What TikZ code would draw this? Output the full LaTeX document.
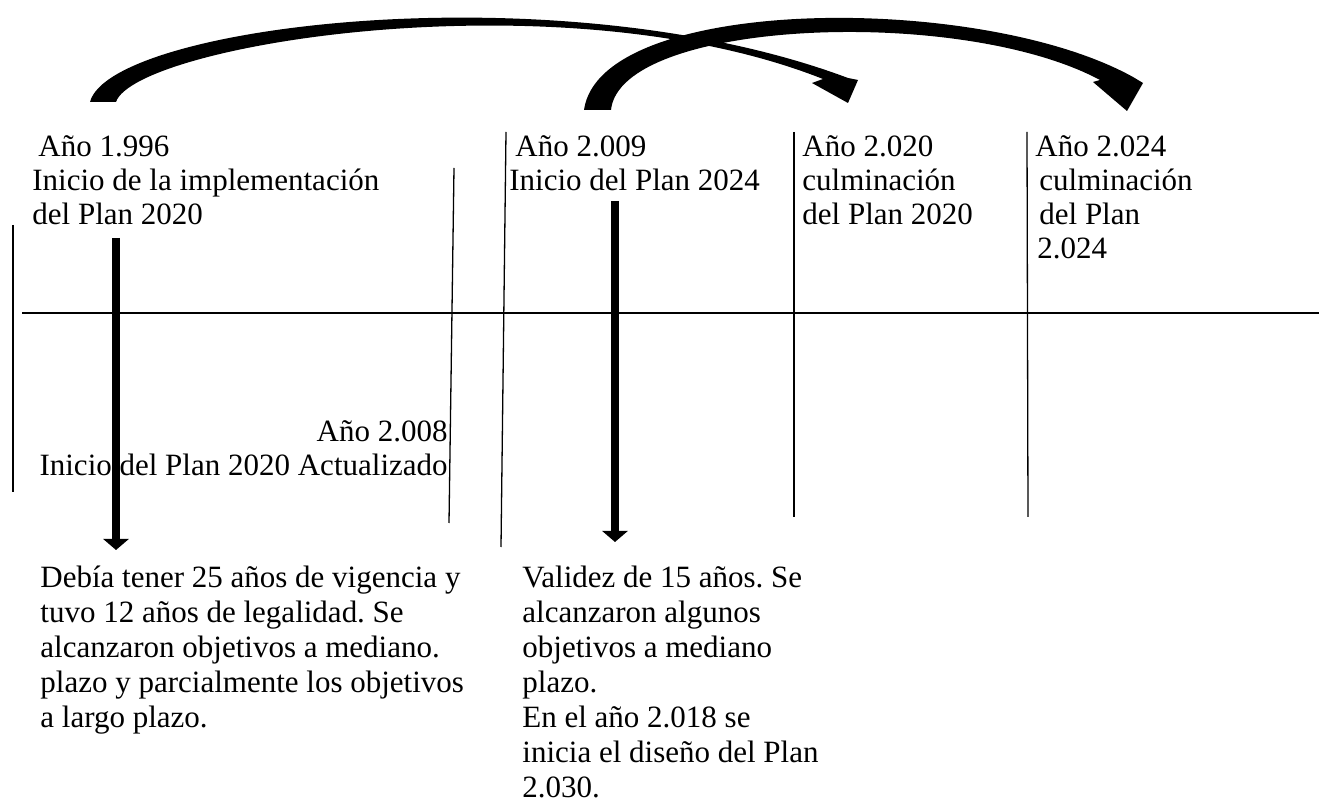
\documentclass[tikz,border=0pt]{standalone}
\usepackage{fontspec}
\setmainfont{Liberation Serif}
\usetikzlibrary{arrows.meta}
\newcommand{\txtblock}[2][l]{\begin{tabular}[t]{@{}#1@{}}#2\end{tabular}}
\frenchspacing
\begin{document}
\begin{tikzpicture}[x=0.5pt, y=-0.5pt, >={Triangle[width=12.5pt,length=5.5pt]},
  every node/.style={font=\fontsize{15.5pt}{17pt}\selectfont, inner sep=0pt, anchor=base west},
  wide/.style={font=\fontsize{15.5pt}{17.5pt}\selectfont},
  tick/.style={line width=0.65pt}, bigarrow/.style={line width=4.2pt, ->}]
  \useasboundingbox (0,0) rectangle (1319,812);
  \coordinate (axisL) at (22,313); \coordinate (axisR) at (1319,313);
  \draw[line width=0.9pt] (axisL) -- (axisR);
  \draw[tick] (13,225) -- (13,492);
  \draw[tick] (454,168) -- (449,523);
  \draw[tick] (506,132) -- (501,547);
  \draw[tick] (794,132) -- (794,517);
  \draw[tick] (1027,132) -- (1028,517);
  \node (y1996) at (32,157) {\txtblock{\hspace*{3pt}Año 1.996\\Inicio de la implementación\\del Plan 2020}};
  \node (y2009) at (509,157) {\txtblock{\hspace*{3pt}Año 2.009\\Inicio del Plan 2024}};
  \node (y2020) at (802,157) {\txtblock{Año 2.020\\culminación\\del Plan 2020}};
  \node (y2024) at (1035,157) {\txtblock{Año 2.024\\\hspace*{2pt}culminación\\\hspace*{2pt}del Plan\\\hspace*{1pt}2.024}};
  \node[anchor=base east] (y2008) at (448,442) {\txtblock[r]{Año 2.008\\Inicio del Plan 2020 Actualizado}};
  \node[wide] (res2020) at (40,588) {\txtblock{Debía tener 25 años de vigencia y\\tuvo 12 años de legalidad. Se\\alcanzaron objetivos a mediano.\\plazo y parcialmente los objetivos\\a largo plazo.}};
  \node[wide] (res2024) at (522,588) {\txtblock{Validez de 15 años. Se\\alcanzaron algunos\\objetivos a mediano\\plazo.\\En el año 2.018 se\\inicia el diseño del Plan\\2.030.}};
  \coordinate (aTop) at (116,238); \coordinate (aTip) at (116,550);
  \coordinate (bTop) at (615,201); \coordinate (bTip) at (615,542);
  \draw[bigarrow] (aTop) -- (aTip);
  \draw[bigarrow] (bTop) -- (bTip);
  \fill (90,102) -- (116,102) .. controls (135,45) and (560,-25) .. (823,79) -- (812,83) -- (848,103)
    -- (858,80) -- (848,78) .. controls (560,-30) and (110,25) .. (90,102) -- cycle;
  \fill (584,110) -- (611,110) .. controls (620,20) and (960,5) .. (1100,80) -- (1093,82) -- (1127,111)
    -- (1143,83) -- (1133,77) .. controls (980,-8) and (600,-5) .. (584,110) -- cycle;
\end{tikzpicture}
\end{document}
